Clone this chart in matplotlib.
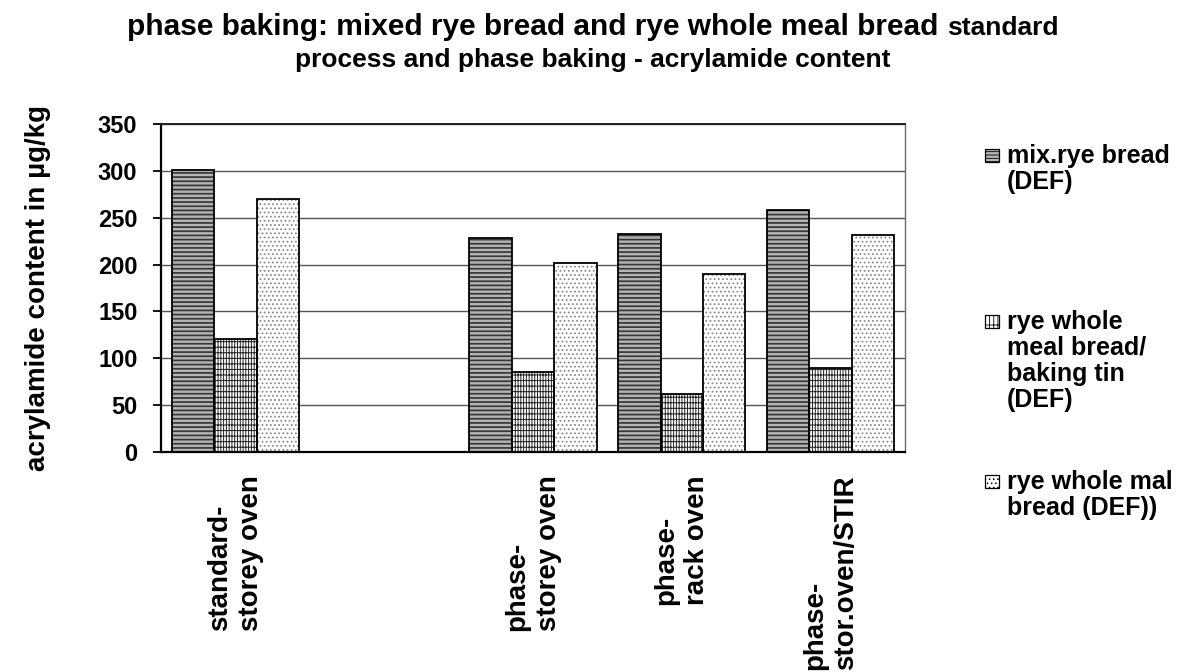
import numpy as np
import matplotlib
matplotlib.use("Agg")
import matplotlib.pyplot as plt
import matplotlib.patches as mpatches

# ---- data -------------------------------------------------------------
categories = ["standard-\nstorey oven", "", "phase-\nstorey oven",
              "phase-\nrack oven", "phase-\nstor.oven/STIR"]
mix_rye = [301, np.nan, 228, 233, 258]
rye_wholemeal_tin = [121, np.nan, 85, 62, 90]
rye_wholemeal = [270, np.nan, 202, 190, 232]

series_labels = ["mix.rye bread\n(DEF)",
                 "rye whole\nmeal bread/\nbaking tin\n(DEF)",
                 "rye whole mal\nbread (DEF))"]
title_main = "phase baking: mixed rye bread and rye whole meal bread"
title_tail = "standard"
title_line2 = "process and phase baking - acrylamide content"
y_label = "acrylamide content in µg/kg"
y_ticks = [0, 50, 100, 150, 200, 250, 300, 350]

# ---- styling ----------------------------------------------------------
plt.rcParams["font.family"] = ["Liberation Sans", "DejaVu Sans"]
plt.rcParams["font.weight"] = "bold"

W, H = 1185, 672
DPI = 100
fig = plt.figure(figsize=(W / DPI, H / DPI), dpi=DPI)
fig.patch.set_facecolor("white")

def fx(px):
    return px / W

def fy(py):
    return 1 - py / H

ax = fig.add_axes([fx(161), fy(452), fx(905) - fx(161), fy(124) - fy(452)])

x = np.arange(len(categories))
bw = 0.285

styles = [
    dict(face="#b4b4b4", hatch="----", hcolor="#383838", hlw=1.25),
    dict(face="white", hatch="||||||---", hcolor="#222222", hlw=0.7),
    dict(face="white", hatch="....", hcolor="#8a8a8a", hlw=0.8),
]
series = [mix_rye, rye_wholemeal_tin, rye_wholemeal]

for i, (vals, st) in enumerate(zip(series, styles)):
    pos = x + (i - 1) * bw
    with plt.rc_context({"hatch.linewidth": st["hlw"]}):
        bars = ax.bar(pos, vals, width=bw, color=st["face"], hatch=st["hatch"],
                      edgecolor=st["hcolor"], linewidth=0, zorder=2)
    for p in bars:
        if hasattr(p, "set_hatch_linewidth"):
            p.set_hatch_linewidth(st["hlw"])
    # black outline on top of the hatched fill
    ax.bar(pos, vals, width=bw, fill=False, edgecolor="black",
           linewidth=1.3, zorder=3)

ax.set_xlim(-0.5, len(categories) - 0.5)
ax.set_ylim(0, 350)
ax.set_yticks(y_ticks)
ax.set_yticklabels([str(v) for v in y_ticks], fontsize=17, fontweight="bold")
ax.tick_params(axis="y", direction="out", length=6, width=1.3, pad=11, color="black")
ax.set_xticks([])
ax.yaxis.grid(True, color="#555555", linewidth=1.0, zorder=0)
ax.set_axisbelow(True)

for side, col, lw in [("left", "black", 1.6), ("bottom", "black", 1.6),
                      ("top", "#222222", 1.4), ("right", "#6a6a6a", 1.0)]:
    ax.spines[side].set_color(col)
    ax.spines[side].set_linewidth(lw)

# category labels, rotated
for xi, lab in zip(x, categories):
    if lab:
        ax.text(xi, -0.072, lab, transform=ax.get_xaxis_transform(),
                rotation=90, ha="center", va="top", multialignment="left",
                fontsize=20, fontweight="bold", linespacing=1.25)

# y axis title
fig.text(fx(38), fy(288), y_label, rotation=90, ha="center", va="center",
         fontsize=20, fontweight="bold")

# ---- title with a smaller trailing word -------------------------------
renderer = fig.canvas.get_renderer()
fs_main, fs_small = 21.5, 19
t1 = fig.text(0, fy(35), title_main, fontsize=fs_main, fontweight="bold",
              ha="left", va="baseline")
t2 = fig.text(0, fy(35), title_tail, fontsize=fs_small, fontweight="bold",
              ha="left", va="baseline")
w1 = t1.get_window_extent(renderer).width
w2 = t2.get_window_extent(renderer).width
gap = 0.278 * fs_main * DPI / 72
total = w1 + gap + w2
start = W / 2 - total / 2
t1.set_x(fx(start))
t2.set_x(fx(start + w1 + gap))
fig.text(0.5, fy(67), title_line2, fontsize=fs_small, fontweight="bold",
         ha="center", va="baseline")

# ---- legend -----------------------------------------------------------
legend_first_baseline = [162, 328, 488]
for lab, st, base in zip(series_labels, styles, legend_first_baseline):
    fig.text(fx(1007), fy(base - 18), lab, fontsize=18, fontweight="bold",
             ha="left", va="top", linespacing=1.1)
    face = st["face"]
    hatch = {"----": "-----", "||||||---": "|||+", "....": "...."}[st["hatch"]]
    with plt.rc_context({"hatch.linewidth": 0.6}):
        mk = mpatches.Rectangle((fx(985), fy(base)), fx(14), 13 / H,
                                transform=fig.transFigure, facecolor=face,
                                edgecolor="black", linewidth=0.9, hatch=hatch)
    fig.add_artist(mk)

fig.savefig("out.png", dpi=DPI, facecolor="white")
